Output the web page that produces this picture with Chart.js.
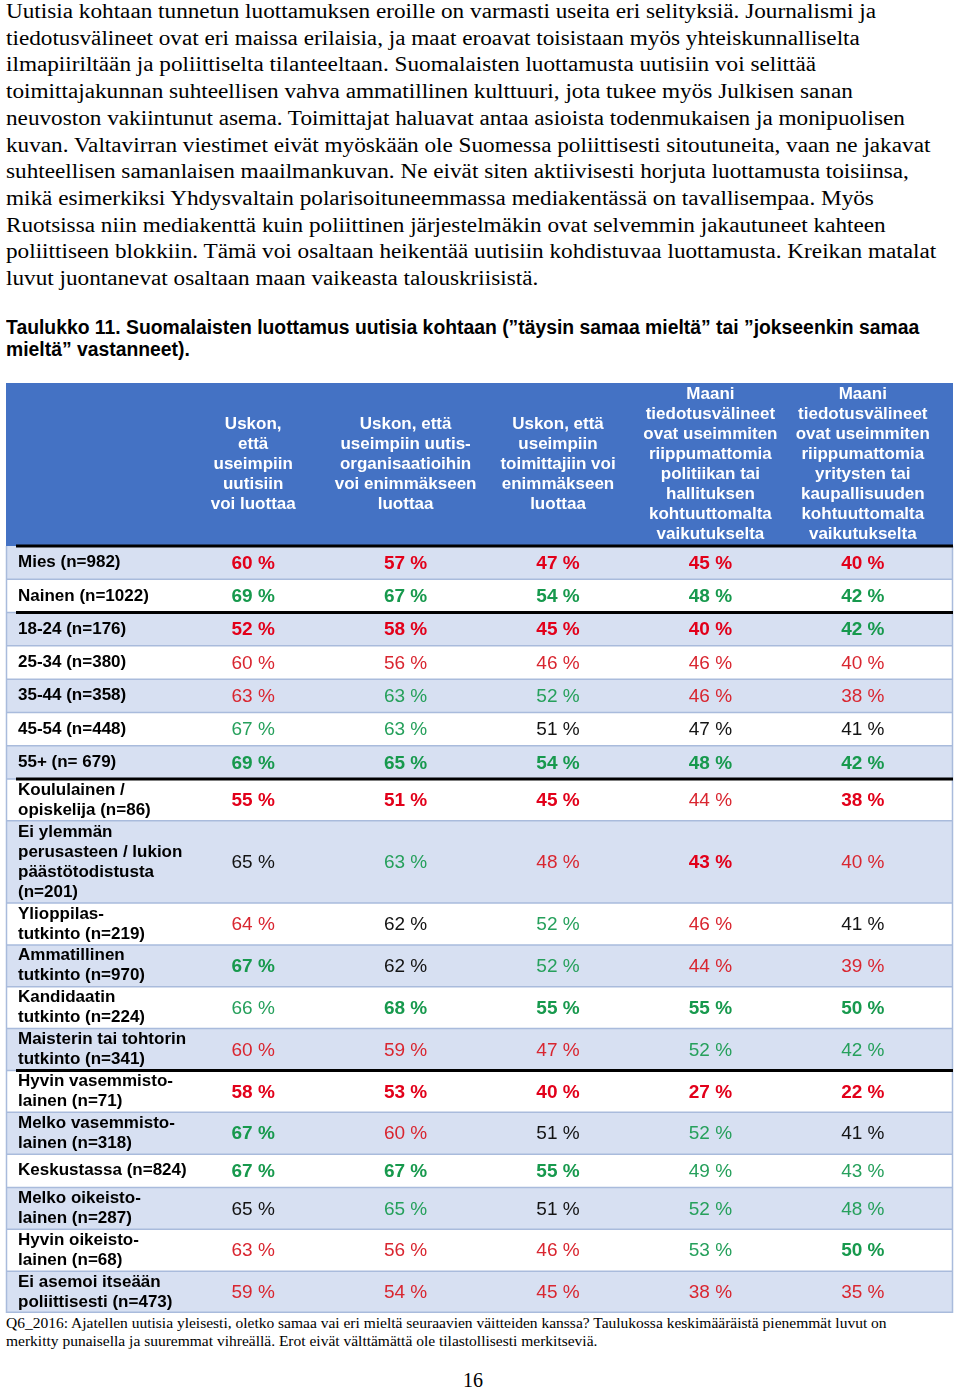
<!DOCTYPE html>
<html lang="fi">
<head>
<meta charset="utf-8">
<script src="https://cdn.jsdelivr.net/npm/chart.js@4.4.1/dist/chart.umd.min.js"></script>
<style>
  html, body { margin: 0; padding: 0; background: #fff; }
  body { position: relative; width: 960px; height: 1390px; overflow: hidden; }
  #para { position: absolute; left: 6px; top: -2px; font-family: "Liberation Serif", "Times New Roman", serif; font-size: 20.5px; line-height: 26.7px; color: #000; white-space: nowrap; transform: scaleX(1.132); transform-origin: 0 0; }
  #caption { position: absolute; left: 6px; top: 316px; font-family: "Liberation Sans", Arial, sans-serif; font-weight: bold; font-size: 20px; line-height: 22px; color: #000; white-space: nowrap; transform: scaleX(0.967); transform-origin: 0 0; }
  #note { position: absolute; left: 6px; top: 1314px; font-family: "Liberation Serif", "Times New Roman", serif; font-size: 15.5px; line-height: 18px; color: #000; white-space: nowrap; }
  #page { position: absolute; left: 0; width: 946px; top: 1367px; text-align: center; font-family: "Liberation Serif", "Times New Roman", serif; font-size: 20px; line-height: 26px; }
  #c { position: absolute; left: 0; top: 383px; }
</style>
</head>
<body>
<div id="para">Uutisia kohtaan tunnetun luottamuksen eroille on varmasti useita eri selityksiä. Journalismi ja<br>tiedotusvälineet ovat eri maissa erilaisia, ja maat eroavat toisistaan myös yhteiskunnalliselta<br>ilmapiiriltään ja poliittiselta tilanteeltaan. Suomalaisten luottamusta uutisiin voi selittää<br>toimittajakunnan suhteellisen vahva ammatillinen kulttuuri, jota tukee myös Julkisen sanan<br>neuvoston vakiintunut asema. Toimittajat haluavat antaa asioista todenmukaisen ja monipuolisen<br>kuvan. Valtavirran viestimet eivät myöskään ole Suomessa poliittisesti sitoutuneita, vaan ne jakavat<br>suhteellisen samanlaisen maailmankuvan. Ne eivät siten aktiivisesti horjuta luottamusta toisiinsa,<br>mikä esimerkiksi Yhdysvaltain polarisoituneemmassa mediakentässä on tavallisempaa. Myös<br>Ruotsissa niin mediakenttä kuin poliittinen järjestelmäkin ovat selvemmin jakautuneet kahteen<br>poliittiseen blokkiin. Tämä voi osaltaan heikentää uutisiin kohdistuvaa luottamusta. Kreikan matalat<br>luvut juontanevat osaltaan maan vaikeasta talouskriisistä.</div>
<div id="caption">Taulukko 11. Suomalaisten luottamus uutisia kohtaan (”täysin samaa mieltä” tai ”jokseenkin samaa<br>mieltä” vastanneet).</div>
<canvas id="c" width="960" height="930"></canvas>
<div id="note">Q6_2016: Ajatellen uutisia yleisesti, oletko samaa vai eri mieltä seuraavien väitteiden kanssa? Taulukossa keskimääräistä pienemmät luvut on<br>merkitty punaisella ja suuremmat vihreällä. Erot eivät välttämättä ole tilastollisesti merkitseviä.</div>
<div id="page">16</div>
<script>
// ---------- DATA ----------
const columnHeaders = [
  ["Uskon,", "että", "useimpiin", "uutisiin", "voi luottaa"],
  ["Uskon, että", "useimpiin uutis-", "organisaatioihin", "voi enimmäkseen", "luottaa"],
  ["Uskon, että", "useimpiin", "toimittajiin voi", "enimmäkseen", "luottaa"],
  ["Maani", "tiedotusvälineet", "ovat useimmiten", "riippumattomia", "politiikan tai", "hallituksen", "kohtuuttomalta", "vaikutukselta"],
  ["Maani", "tiedotusvälineet", "ovat useimmiten", "riippumattomia", "yritysten tai", "kaupallisuuden", "kohtuuttomalta", "vaikutukselta"]
];

const rowLabels = [
  ["Mies (n=982)"],
  ["Nainen (n=1022)"],
  ["18-24 (n=176)"],
  ["25-34 (n=380)"],
  ["35-44 (n=358)"],
  ["45-54 (n=448)"],
  ["55+ (n= 679)"],
  ["Koululainen /", "opiskelija (n=86)"],
  ["Ei ylemmän", "perusasteen / lukion", "päästötodistusta", "(n=201)"],
  ["Ylioppilas-", "tutkinto (n=219)"],
  ["Ammatillinen", "tutkinto (n=970)"],
  ["Kandidaatin", "tutkinto (n=224)"],
  ["Maisterin tai tohtorin", "tutkinto (n=341)"],
  ["Hyvin vasemmisto-", "lainen (n=71)"],
  ["Melko vasemmisto-", "lainen (n=318)"],
  ["Keskustassa (n=824)"],
  ["Melko oikeisto-", "lainen (n=287)"],
  ["Hyvin oikeisto-", "lainen (n=68)"],
  ["Ei asemoi itseään", "poliittisesti (n=473)"]
];

// last row index of each group (thick separator after it)
const groupEnds = [1, 6, 12];

// values (%) per column
const trustNews        = [60, 69, 52, 60, 63, 67, 69, 55, 65, 64, 67, 66, 60, 58, 67, 67, 65, 63, 59];
const trustNewsOrgs    = [57, 67, 58, 56, 63, 63, 65, 51, 63, 62, 62, 68, 59, 53, 60, 67, 65, 56, 54];
const trustJournalists = [47, 54, 45, 46, 52, 51, 54, 45, 48, 52, 52, 55, 47, 40, 51, 55, 51, 46, 45];
const freePolitics     = [45, 48, 40, 46, 46, 47, 48, 44, 43, 46, 44, 55, 52, 27, 52, 49, 52, 53, 38];
const freeBusiness     = [40, 42, 42, 40, 38, 41, 42, 38, 40, 41, 39, 50, 42, 22, 41, 43, 48, 50, 35];

// markings: R = bold red, r = red, G = bold green, g = green, k = plain
const trustNewsMarks        = ["R","G","R","r","r","g","G","R","k","r","G","g","r","R","G","G","k","r","r"];
const trustNewsOrgsMarks    = ["R","G","R","r","g","g","G","R","g","k","k","G","r","R","r","G","g","r","r"];
const trustJournalistsMarks = ["R","G","R","r","g","k","G","R","r","g","g","G","r","R","k","G","k","r","r"];
const freePoliticsMarks     = ["R","G","R","r","r","k","G","r","R","r","r","G","g","R","g","g","g","g","r"];
const freeBusinessMarks     = ["R","G","G","r","r","k","G","R","r","k","r","G","g","R","k","g","g","G","r"];

// ---------- BUILD ----------
const columnValues = [trustNews, trustNewsOrgs, trustJournalists, freePolitics, freeBusiness];
const columnMarks  = [trustNewsMarks, trustNewsOrgsMarks, trustJournalistsMarks, freePoliticsMarks, freeBusinessMarks];

// row heights in "line units", derived from the number of label lines
const rowUnits = rowLabels.map(l => l.length === 1 ? 1.65 : l.length + 0.075);
const rowTops = [];
let acc = 0;
rowUnits.forEach(u => { rowTops.push(acc); acc += u; });
const totalUnits = acc;
const rowCenters = rowTops.map((t, i) => t + rowUnits[i] / 2);

const markColor = { R: "#e2001a", r: "#d92630", G: "#17994d", g: "#26a05c", k: "#141414" };
const SANS = '"Liberation Sans", Arial, sans-serif';

const TL = 6, TR = 953;

const tablePlugin = {
  id: "tablePlugin",
  beforeDatasetsDraw(chart) {
    const { ctx, chartArea, scales } = chart;
    const xs = scales.x, ys = scales.y;
    ctx.save();
    // header
    ctx.fillStyle = "#4472c4";
    ctx.fillRect(TL, 0, TR - TL, chartArea.top);
    ctx.fillStyle = "#ffffff";
    ctx.font = "bold 17px " + SANS;
    ctx.textAlign = "center";
    ctx.textBaseline = "middle";
    const hc = 81;
    columnHeaders.forEach((lines, c) => {
      const cx = xs.getPixelForValue(c);
      lines.forEach((t, i) => ctx.fillText(t, cx, hc + (i - (lines.length - 1) / 2) * 20));
    });
    // row bands
    rowLabels.forEach((lines, r) => {
      const top = ys.getPixelForValue(rowTops[r]);
      const bot = ys.getPixelForValue(rowTops[r] + rowUnits[r]);
      ctx.fillStyle = r % 2 === 0 ? "#d7e0f2" : "#ffffff";
      ctx.fillRect(TL, top, TR - TL, bot - top);
    });
    // thin separators
    ctx.strokeStyle = "#a9bbdc";
    ctx.lineWidth = 1.5;
    rowLabels.forEach((lines, r) => {
      if (r === 0) return;
      const yy = ys.getPixelForValue(rowTops[r]);
      ctx.beginPath(); ctx.moveTo(TL, yy); ctx.lineTo(TR, yy); ctx.stroke();
    });
    const bottom = ys.getPixelForValue(totalUnits);
    ctx.beginPath(); ctx.moveTo(TL, bottom - 0.75); ctx.lineTo(TR, bottom - 0.75); ctx.stroke();
    ctx.beginPath(); ctx.moveTo(TL + 0.5, chartArea.top); ctx.lineTo(TL + 0.5, bottom); ctx.stroke();
    ctx.beginPath(); ctx.moveTo(TR - 0.5, chartArea.top); ctx.lineTo(TR - 0.5, bottom); ctx.stroke();
    // thick group separators
    ctx.strokeStyle = "#000000";
    ctx.lineWidth = 3;
    const thick = [ys.getPixelForValue(0)];
    groupEnds.forEach(g => thick.push(ys.getPixelForValue(rowTops[g] + rowUnits[g])));
    thick.forEach(yy => { ctx.beginPath(); ctx.moveTo(16, yy); ctx.lineTo(TR, yy); ctx.stroke(); });
    // row labels
    ctx.fillStyle = "#000000";
    ctx.font = "bold 17px " + SANS;
    ctx.textAlign = "left";
    ctx.textBaseline = "middle";
    rowLabels.forEach((lines, r) => {
      const cy = ys.getPixelForValue(rowCenters[r]);
      lines.forEach((t, i) => ctx.fillText(t, 18, cy + (i - (lines.length - 1) / 2) * 20));
    });
    ctx.restore();
  },
  afterDatasetsDraw(chart) {
    const { ctx } = chart;
    ctx.save();
    ctx.textAlign = "center";
    ctx.textBaseline = "middle";
    chart.data.datasets.forEach((ds, di) => {
      const meta = chart.getDatasetMeta(di);
      meta.data.forEach((el, i) => {
        const raw = ds.data[i];
        const bold = raw.m === "R" || raw.m === "G";
        ctx.font = (bold ? "bold " : "") + "19px " + SANS;
        ctx.fillStyle = markColor[raw.m];
        ctx.fillText(raw.v + " %", el.x, el.y + 1);
      });
    });
    ctx.restore();
  }
};

const datasets = columnValues.map((vals, c) => ({
  label: columnHeaders[c].join(" "),
  data: vals.map((v, r) => ({ x: c, y: rowCenters[r], v: v, m: columnMarks[c][r] })),
  pointRadius: 0,
  pointHoverRadius: 0,
  showLine: false
}));

new Chart(document.getElementById("c"), {
  type: "scatter",
  data: { datasets },
  options: {
    responsive: false,
    devicePixelRatio: 1,
    animation: false,
    events: [],
    layout: { autoPadding: false, padding: { left: 177, right: 21, top: 163, bottom: 0 } },
    plugins: { legend: { display: false }, tooltip: { enabled: false } },
    scales: {
      x: { type: "linear", min: -0.5, max: 4.5, display: false },
      y: { type: "linear", min: 0, max: totalUnits, reverse: true, display: false }
    }
  },
  plugins: [tablePlugin]
});
</script>
</body>
</html>
